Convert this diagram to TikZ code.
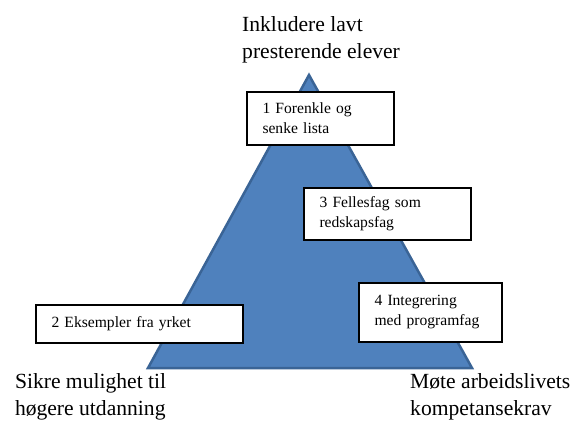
\documentclass[tikz,border=0pt]{standalone}
\usepackage{fontspec}
\setmainfont{Liberation Serif}
\definecolor{triFill}{HTML}{4F81BD}
\definecolor{triLine}{HTML}{3A6496}
\begin{document}
\begin{tikzpicture}[x=1pt,y=-1pt,
  textbox/.style={draw=black,line width=1.3pt,fill=white,inner sep=0pt,
    align=left,font=\fontsize{15.6}{20}\selectfont},
  biglabel/.style={inner sep=0pt,align=left,anchor=base west,
    font=\fontsize{21.6}{27}\selectfont}]
\useasboundingbox (0,0) rectangle (580,426);
\coordinate (apex) at (309,75);
\coordinate (bl) at (148,368);
\coordinate (br) at (472,368);
\draw[fill=triFill,draw=triLine,line width=2.5pt,line join=miter] (apex) -- (bl) -- (br) -- cycle;
\node[textbox,minimum width=147pt,minimum height=53pt,text width=116pt] (b1) at (320.5,118.5) {1 Forenkle og\\senke lista};
\node[textbox,minimum width=167pt,minimum height=52pt,text width=136pt] (b3) at (387.5,214) {3 Fellesfag som\\redskapsfag};
\node[textbox,minimum width=143pt,minimum height=59pt,text width=112pt] (b4) at (430.5,312.5) {4 Integrering\\med programfag};
\node[textbox,minimum width=207pt,minimum height=38pt,text width=176pt] (b2) at (139.5,324) {2 Eksempler fra yrket};
\node[biglabel] (top) at (242,58) {Inkludere lavt\\presterende elever};
\node[biglabel] (left) at (14.8,415) {Sikre mulighet til\\høgere utdanning};
\node[biglabel] (right) at (410,415) {Møte arbeidslivets\\kompetansekrav};
\end{tikzpicture}
\end{document}
